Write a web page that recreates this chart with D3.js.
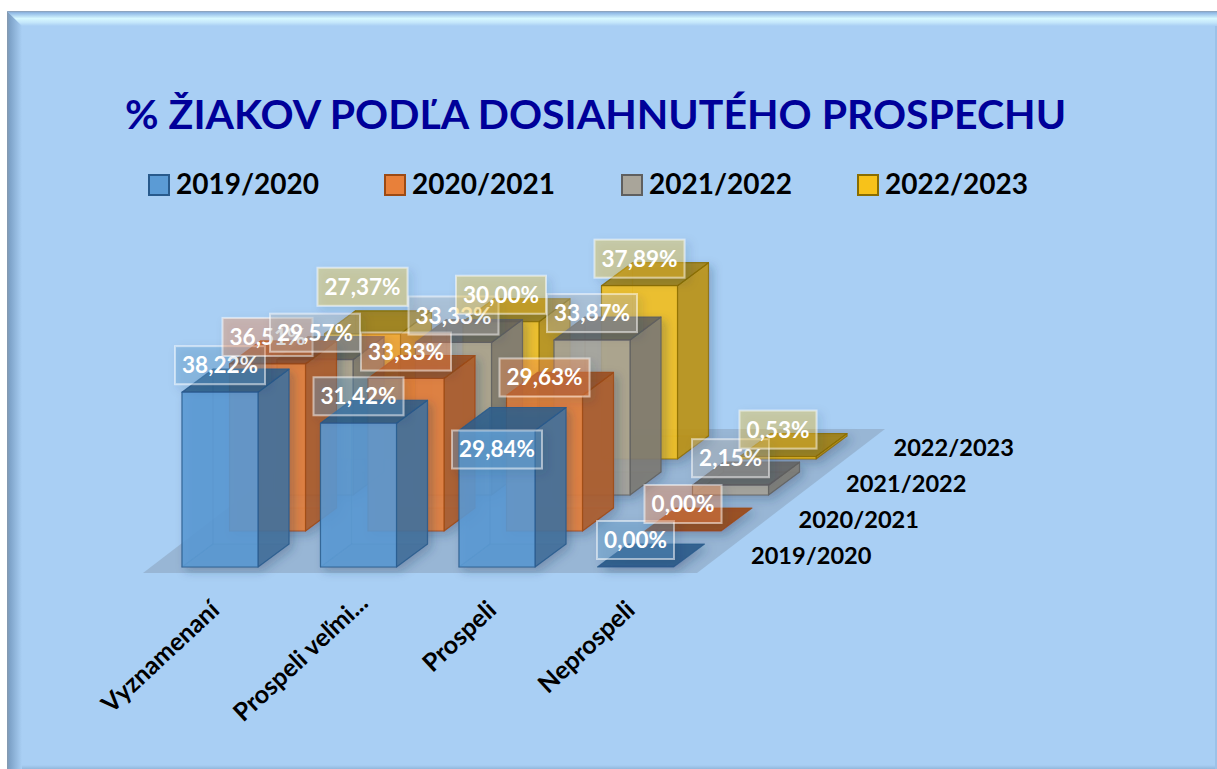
<!DOCTYPE html>
<html>
<head>
<meta charset="utf-8">
<script src="https://cdn.jsdelivr.net/npm/d3@7"></script>
<style>
  html, body { margin: 0; padding: 0; background: #fff; }
  svg { display: block; }
  text { font-family: Lato, "Noto Sans", sans-serif; font-weight: 700; }
</style>
</head>
<body>
<svg width="1217" height="769"></svg>
<script>
'use strict'

const WIDTH = 1217;
const HEIGHT = 769;

const categories = ['Vyznamenaní', 'Prospeli veľmi...', 'Prospeli', 'Neprospeli'];
const seasons = ['2019/2020', '2020/2021', '2021/2022', '2022/2023'];
const values2019 = [38.22, 31.42, 29.84, 0.00];
const values2020 = [36.51, 33.33, 29.63, 0.00];
const values2021 = [29.57, 33.33, 33.87, 2.15];
const values2022 = [27.37, 30.00, 37.89, 0.53];
const allValues = [values2019, values2020, values2021, values2022];

const frontColors = ['#5b9bd5', '#e8803a', '#a9a59a', '#f7c21a'];
const sideColors = ['#44719c', '#ad5c29', '#7d7b74', '#bd9412'];
const topColors = ['#2f5e8c', '#9a4c1c', '#63625f', '#a17f08'];
const edgeColors = ['#285a8c', '#9c4a14', '#5f5f5f', '#8a6d00'];
const labelColors = ['#5f9ccc', '#fc8d49', '#b5b5b5', '#fcc921'];

const BAR_W = 76;
const DEPTH_X = 31;
const DEPTH_Y = -23;

// labels the original chart had dragged away from their bars
const labelNudge = { '0-2': 46, '1-2': 9, '3-0': -20 };

const xCat = d3.scalePoint().domain(categories).range([182, 597.5]);
const xSeason = d3.scalePoint().domain(seasons).range([0, 142.5]);
const ySeason = d3.scalePoint().domain(seasons).range([567, 459]);
const yHeight = d3.scaleLinear().domain([0, 40]).range([0, 183]);
const fmt = v => v.toFixed(2).replace('.', ',') + '%';

const svg = d3.select('svg');
const defs = svg.append('defs');

const shadow = defs.append('filter').attr('id', 'shadow')
  .attr('x', '-30%').attr('y', '-30%').attr('width', '170%').attr('height', '170%');
shadow.append('feDropShadow')
  .attr('dx', 4).attr('dy', 4).attr('stdDeviation', 5)
  .attr('flood-color', '#1f3a58').attr('flood-opacity', 0.3);

function gradient(id, x2, y2, stops) {
  const g = defs.append('linearGradient').attr('id', id)
    .attr('x1', 0).attr('y1', 0).attr('x2', x2).attr('y2', y2);
  stops.forEach(s => g.append('stop').attr('offset', s[0]).attr('stop-color', s[1]));
}
gradient('bevelTop', 0, 1, [[0, '#8c9db0'], [0.12, '#8fb9e6'], [0.5, '#d6f8ff'], [0.75, '#c6e8fb'], [1, '#a9cff4']]);
gradient('bevelLeft', 1, 0, [[0, '#8598ad'], [0.2, '#7ea3c9'], [1, '#a9cff4']]);
gradient('bevelBottom', 0, 1, [[0, '#a9cff4'], [1, '#93b8dc']]);

// panel and bevel
svg.append('rect').attr('x', 7).attr('y', 11).attr('width', WIDTH - 7).attr('height', HEIGHT - 11)
  .attr('fill', '#a9cff4');
svg.append('path').attr('d', 'M7,11L22,26L22,' + HEIGHT + 'L7,' + HEIGHT + 'Z').attr('fill', 'url(#bevelLeft)');
svg.append('path').attr('d', 'M7,11L' + WIDTH + ',11L' + WIDTH + ',26L22,26Z').attr('fill', 'url(#bevelTop)');
svg.append('rect').attr('x', 22).attr('y', HEIGHT - 4).attr('width', WIDTH - 22).attr('height', 4)
  .attr('fill', 'url(#bevelBottom)');
svg.append('rect').attr('x', WIDTH - 2).attr('y', 26).attr('width', 2).attr('height', HEIGHT - 26)
  .attr('fill', '#9cc2e8');

// title
svg.append('text').attr('x', 125).attr('y', 129)
  .attr('font-size', 41).attr('fill', '#000099')
  .text('% ŽIAKOV PODĽA DOSIAHNUTÉHO PROSPECHU');

// legend
const legendX = [149, 385, 622, 858];
const legend = svg.append('g').selectAll('g').data(seasons).enter().append('g')
  .attr('transform', (d, i) => 'translate(' + legendX[i] + ',175)');
legend.append('rect').attr('width', 20).attr('height', 20)
  .attr('fill', (d, i) => frontColors[i])
  .attr('stroke', (d, i) => edgeColors[i]).attr('stroke-width', 2);
legend.append('text').attr('x', 27).attr('y', 19).attr('font-size', 28).attr('fill', '#000')
  .text(d => d);

// floor
const floor = d3.line();
svg.append('path')
  .attr('d', floor([[143, 573], [697, 573], [885, 429], [331, 429]]) + 'Z')
  .attr('fill', '#6f7f8f').attr('fill-opacity', 0.3);

// bars, back row first
function barFaces(cat, season, value) {
  const x0 = xCat(cat) + xSeason(season);
  const x1 = x0 + BAR_W;
  const y0 = ySeason(season);
  const y1 = y0 - yHeight(value);
  const dx = DEPTH_X, dy = DEPTH_Y;
  return [
    { kind: 'side', pts: [[x0 + dx, y0 + dy], [x1 + dx, y0 + dy], [x1 + dx, y1 + dy], [x0 + dx, y1 + dy]] },
    { kind: 'side', pts: [[x0, y0], [x0 + dx, y0 + dy], [x0 + dx, y1 + dy], [x0, y1]] },
    { kind: 'floor', pts: [[x0, y0], [x1, y0], [x1 + dx, y0 + dy], [x0 + dx, y0 + dy]] },
    { kind: 'right', pts: [[x1, y0], [x1 + dx, y0 + dy], [x1 + dx, y1 + dy], [x1, y1]] },
    { kind: 'top', pts: [[x0, y1], [x1, y1], [x1 + dx, y1 + dy], [x0 + dx, y1 + dy]] },
    { kind: 'front', pts: [[x0, y0], [x1, y0], [x1, y1], [x0, y1]] }
  ];
}

const faceFill = { side: sideColors, floor: topColors, right: sideColors, top: topColors, front: frontColors };
const faceAlpha = { side: 0.18, floor: 0.22, right: 0.88, top: 0.85, front: 0.86 };

seasons.map((s, i) => i).reverse().forEach(si => {
  const row = svg.append('g').attr('filter', 'url(#shadow)');
  categories.forEach((cat, ci) => {
    const v = allValues[si][ci];
    const faces = v > 0 ? barFaces(cat, seasons[si], v)
      : barFaces(cat, seasons[si], v).filter(f => f.kind === 'top');
    row.append('g').selectAll('path').data(faces).enter().append('path')
      .attr('d', f => floor(f.pts) + 'Z')
      .attr('fill', f => faceFill[f.kind][si])
      .attr('fill-opacity', f => v > 0 ? faceAlpha[f.kind] : 0.95)
      .attr('stroke', edgeColors[si])
      .attr('stroke-opacity', f => f.kind === 'side' || f.kind === 'floor' ? 0.25 : 0.8)
      .attr('stroke-width', 1.2)
      .attr('stroke-linejoin', 'round');
  });
});

// data labels, first series at the bottom
seasons.forEach((season, si) => {
  categories.forEach((cat, ci) => {
    const v = allValues[si][ci];
    const cx = xCat(cat) + xSeason(season) + BAR_W / 2;
    const cy = ySeason(season) - yHeight(v) - 27 + (labelNudge[si + '-' + ci] || 0);
    const boxW = fmt(v).length > 5 ? 90 : 77;
    const lab = svg.append('g').attr('transform', 'translate(' + cx + ',' + cy + ')');
    lab.append('rect').attr('x', -boxW / 2).attr('y', -19).attr('width', boxW).attr('height', 38)
      .attr('fill', labelColors[si]).attr('fill-opacity', 0.35)
      .attr('stroke', '#fff').attr('stroke-opacity', 0.5).attr('stroke-width', 2)
      .attr('filter', 'url(#shadow)');
    lab.append('text').attr('text-anchor', 'middle').attr('y', 8)
      .attr('font-size', 22.5).attr('fill', '#fff').text(fmt(v));
  });
});

// category axis labels
svg.append('g').selectAll('text').data(categories).enter().append('text')
  .attr('text-anchor', 'end')
  .attr('font-size', 25).attr('fill', '#000')
  .attr('transform', (d, i) => 'translate(' + (xCat(d) + 39 + (i === 1 ? 10 : 0)) + ',' + (i === 1 ? 605 : 612) + ') rotate(-43)')
  .text(d => d);

// season axis labels
svg.append('g').selectAll('text').data(seasons).enter().append('text')
  .attr('x', d => 751 + xSeason(d))
  .attr('y', d => ySeason(d) - 3)
  .attr('font-size', 23.6).attr('fill', '#000')
  .text(d => d);
</script>
</body>
</html>
